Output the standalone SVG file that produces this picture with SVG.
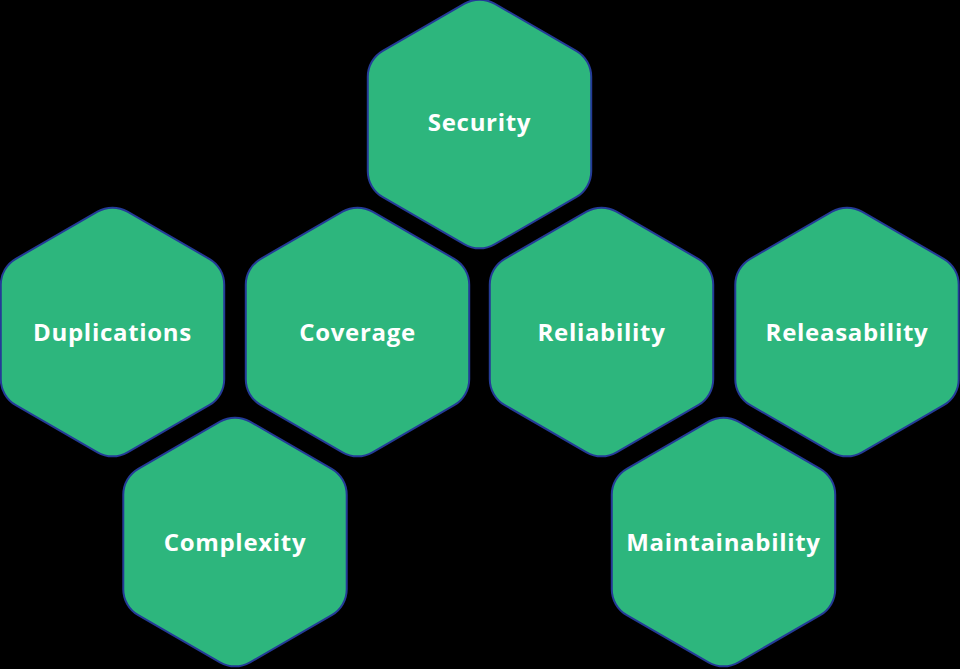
<svg xmlns="http://www.w3.org/2000/svg" width="960" height="669" viewBox="0 0 960 669">
  <style>
    .hex { fill: #2db67d; stroke: #243b97; stroke-width: 2; }
    .lbl { fill: #ffffff; font-family: "Open Sans", "Liberation Sans", sans-serif; font-weight: 700; font-size: 24px; letter-spacing: 0.7px; text-anchor: middle; dominant-baseline: central; }
  </style>
  <defs>
    <!-- pointy-top hexagon with rounded corners, centred on the origin -->
    <path id="hexShape" d="M15,-120.34 L96.72,-73.16 A30,30 0 0 1 111.72,-47.18 L111.72,47.18 A30,30 0 0 1 96.72,73.16 L15,120.34 A30,30 0 0 1 -15,120.34 L-96.72,73.16 A30,30 0 0 1 -111.72,47.18 L-111.72,-47.18 A30,30 0 0 1 -96.72,-73.16 L-15,-120.34 A30,30 0 0 1 15,-120.34 Z"/>
  </defs>
  <rect width="960" height="669" fill="#000000"/>

  <g id="security" transform="translate(479.5,124)">
    <use href="#hexShape" class="hex"/>
    <text class="lbl" x="0" y="-3">Security</text>
  </g>
  <g id="duplications" transform="translate(112.5,332)">
    <use href="#hexShape" class="hex"/>
    <text class="lbl" x="0" y="-1">Duplications</text>
  </g>
  <g id="coverage" transform="translate(357.5,332)">
    <use href="#hexShape" class="hex"/>
    <text class="lbl" x="0" y="-1">Coverage</text>
  </g>
  <g id="reliability" transform="translate(601.5,332)">
    <use href="#hexShape" class="hex"/>
    <text class="lbl" x="0" y="-1">Reliability</text>
  </g>
  <g id="releasability" transform="translate(847,332)">
    <use href="#hexShape" class="hex"/>
    <text class="lbl" x="0" y="-1">Releasability</text>
  </g>
  <g id="complexity" transform="translate(235,542)">
    <use href="#hexShape" class="hex"/>
    <text class="lbl" x="0" y="-1">Complexity</text>
  </g>
  <g id="maintainability" transform="translate(723.5,542)">
    <use href="#hexShape" class="hex"/>
    <text class="lbl" x="0" y="-1">Maintainability</text>
  </g>

  <g id="connectors"></g>
</svg>
